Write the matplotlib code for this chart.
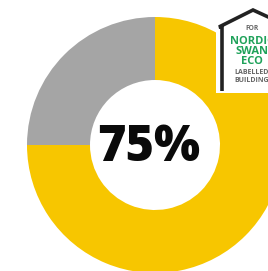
import matplotlib
matplotlib.use("Agg")
import matplotlib.pyplot as plt
from matplotlib.patches import Polygon, Rectangle

labels = ["Achieved", "Remaining"]
values = [75, 25]
colors = ["#F7C600", "#A5A5A5"]
center_label = "75%"
logo_lines = ["FOR", "NORDIC", "SWAN", "ECO", "LABELLED", "BUILDING"]

W, H = 268, 271
fig = plt.figure(figsize=(W / 100, H / 100), dpi=100)
ax = fig.add_axes([0, 0, 1, 1])

ax.pie(values, colors=colors, startangle=90, counterclock=False,
       center=(155, H - 145), radius=128,
       wedgeprops=dict(width=63, edgecolor="none"))
ax.set_xlim(0, W)
ax.set_ylim(0, H)
ax.set_aspect("equal")
ax.axis("off")

ax.text(149, H - 148, center_label, ha="center", va="center",
        fontsize=35, fontweight=800, family="Open Sans", color="#0a0a0a")

# logo
ax.add_patch(Rectangle((216, H - 93), 60, 83, facecolor="white", edgecolor="none", zorder=5))
house = [(222, H - 91), (222, H - 27), (219, H - 27), (253, H - 10), (290, H - 27), (290, H - 91)]
ax.add_patch(Polygon(house, closed=False, fill=False, edgecolor="#222222", lw=2.6, zorder=6))
ys = [29, 41, 51, 61, 72, 80]
sizes = [4.8, 8, 8, 8, 5, 5]
cols = ["#666666", "#1FA25A", "#1FA25A", "#1FA25A", "#666666", "#666666"]
for t, y, s, c in zip(logo_lines, ys, sizes, cols):
    ax.text(252, H - y, t, ha="center", va="center", fontsize=s,
            fontweight="bold", color=c, family="Open Sans", zorder=7)

fig.savefig("out.png", dpi=100)
